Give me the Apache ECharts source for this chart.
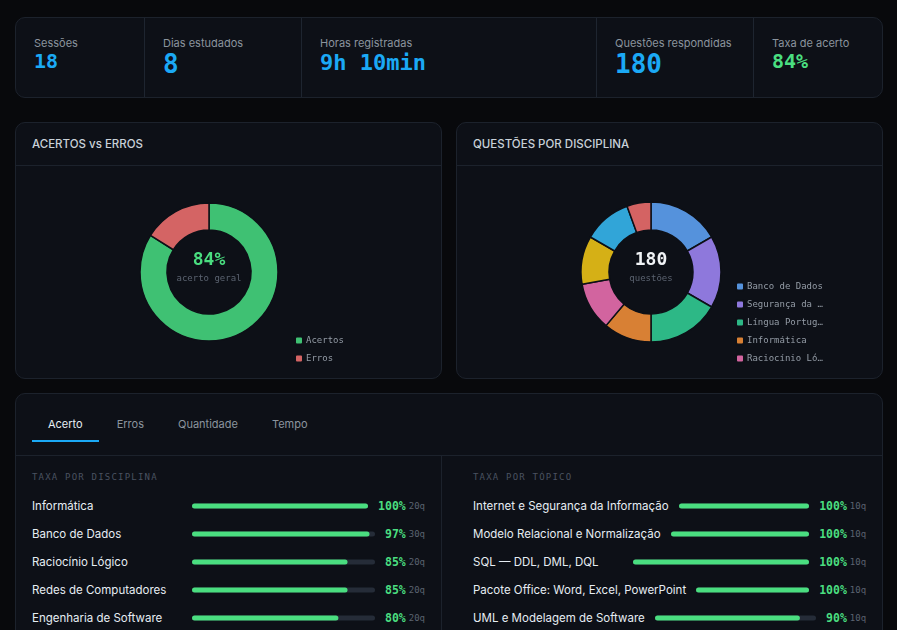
<!DOCTYPE html>
<html>
<head>
<meta charset="utf-8">
<script src="https://cdn.jsdelivr.net/npm/echarts@6.0.0/dist/echarts.min.js"></script>
<style>
  html, body { margin: 0; padding: 0; background: #08090c; overflow: hidden; }
  body { width: 897px; height: 630px; position: relative; font-family: Inter, "Noto Sans", sans-serif; color: #e6edf3; }
  .card { position: absolute; background: #0d1017; border: 1px solid #1c222c; border-radius: 10px; box-sizing: border-box; overflow: hidden; }
  .mono { font-family: "DejaVu Sans Mono", "Liberation Mono", monospace; }
  /* kpi */
  #kpi { left: 15px; top: 17px; width: 868px; height: 81px; display: flex; }
  .kpi-cell { box-sizing: border-box; padding: 18px 0 0 18px; border-right: 1px solid #1e2530; }
  .kpi-cell:last-child { border-right: none; }
  .kpi-label { font-size: 11px; color: #8b949e; line-height: 14px; }
  .kpi-val { font-weight: bold; color: #1ba9f5; line-height: 1.15; }
  /* donut cards */
  .head { height: 43px; border-bottom: 1px solid #1c222c; box-sizing: border-box; padding-left: 16px; line-height: 42px; font-size: 11.5px; font-weight: 500; color: #c9d1d9; }
  .donut { position: absolute; left: 0; top: 43px; width: 426px; height: 212px; }
  /* bottom */
  #bottom { left: 15px; top: 393px; width: 868px; height: 280px; }
  .tabs { display: flex; padding: 12px 16px 13px; border-bottom: 1px solid #1c222c; }
  .tab { padding: 11px 16px 9px; margin-right: 2px; font-size: 11px; line-height: 14px; color: #8b949e; border-bottom: 2px solid transparent; }
  .tab.on { color: #e6edf3; border-bottom-color: #1ba9f5; }
  .panels { display: flex; }
  .panel { box-sizing: border-box; padding: 16px 16px 0 16px; }
  .panel:first-child { width: 426px; border-right: 1px solid #1c222c; }
  .panel:last-child { flex: 1; padding-left: 31px; }
  .ptitle { font-size: 9px; line-height: 11px; letter-spacing: 1.2px; color: #4a5260; margin-bottom: 9px; }
  .row { display: flex; align-items: center; height: 28px; }
  .rlabel { min-width: 150px; margin-right: 10px; white-space: nowrap; font-size: 11.5px; color: #e6edf3; }
  .rbar { flex: 1; height: 10px; }
  .rpct { margin-left: 10px; font-size: 11.5px; font-weight: bold; color: #4ade80; }
  .rcnt { margin-left: 3px; font-size: 9px; color: #5b6370; }
</style>
</head>
<body>

<div class="card" id="kpi"></div>

<div class="card" style="left:15px; top:122px; width:427px; height:257px;">
  <div class="head">ACERTOS vs ERROS</div>
  <div class="donut" id="chartAcertos"></div>
</div>

<div class="card" style="left:456px; top:122px; width:427px; height:257px;">
  <div class="head">QUESTÕES POR DISCIPLINA</div>
  <div class="donut" id="chartDisc"></div>
</div>

<div class="card" id="bottom">
  <div class="tabs" id="tabs"></div>
  <div class="panels">
    <div class="panel"><div class="ptitle mono">TAXA POR DISCIPLINA</div><div id="rowsDisc"></div></div>
    <div class="panel"><div class="ptitle mono">TAXA POR TÓPICO</div><div id="rowsTopic"></div></div>
  </div>
</div>

<script>
// dados
var kpiLabels = ['Sessões', 'Dias estudados', 'Horas registradas', 'Questões respondidas', 'Taxa de acerto'];
var kpiValues = ['18', '8', '9h 10min', '180', '84%'];

var acertoNames = ['Acertos', 'Erros'];
var acertoValues = [151, 29];
var acertoPct = '84%';

var discNames = ['Banco de Dados', 'Segurança da Informação', 'Língua Portuguesa', 'Informática',
  'Raciocínio Lógico', 'Redes de Computadores', 'Engenharia de Software', 'Legislação'];
var discCounts = [30, 30, 30, 20, 20, 20, 20, 10];
var totalQuestoes = '180';

var tabNames = ['Acerto', 'Erros', 'Quantidade', 'Tempo'];

var rateDiscNames = ['Informática', 'Banco de Dados', 'Raciocínio Lógico', 'Redes de Computadores', 'Engenharia de Software'];
var rateDiscValues = [100, 97, 85, 85, 80];
var rateDiscCounts = [20, 30, 20, 20, 20];

var rateTopicNames = ['Internet e Segurança da Informação', 'Modelo Relacional e Normalização', 'SQL — DDL, DML, DQL',
  'Pacote Office: Word, Excel, PowerPoint', 'UML e Modelagem de Software'];
var rateTopicValues = [100, 100, 100, 100, 90];
var rateTopicCounts = [10, 10, 10, 10, 10];

// cores / estilo
var BG = '#0d1017';
var MONO = '"DejaVu Sans Mono", "Liberation Mono", monospace';
var discColors = ['#5592dc', '#8e78dc', '#2db886', '#d88034', '#d2649f', '#d5b016', '#31a5d8', '#d46363'];

// kpi
var kpiWidths = [129, 157, 295, 157, 130];
var kpiSizes = [20, 26, 22, 26, 20];
var kpiHtml = '';
kpiLabels.forEach(function(l, i) {
  var col = i == 4 ? '#4ade80' : '#1ba9f5';
  kpiHtml += '<div class="kpi-cell" style="width:' + kpiWidths[i] + 'px' + (i == 4 ? ';flex:1' : '') + '">' +
    '<div class="kpi-label">' + l + '</div>' +
    '<div class="kpi-val mono" style="font-size:' + kpiSizes[i] + 'px;color:' + col + '">' + kpiValues[i] + '</div></div>';
});
document.getElementById('kpi').innerHTML = kpiHtml;

// tabs
document.getElementById('tabs').innerHTML = tabNames.map(function(t, i) {
  return '<div class="tab' + (i == 0 ? ' on' : '') + '">' + t + '</div>';
}).join('');

function centerText(big, small, bigColor, cx) {
  return [
    { type: 'text', x: cx, y: 94, style: { text: big, fill: bigColor, font: 'bold 18px ' + MONO, align: 'center', verticalAlign: 'middle' } },
    { type: 'text', x: cx, y: 113, style: { text: small, fill: '#5b6370', font: '9px ' + MONO, align: 'center', verticalAlign: 'middle' } }
  ];
}

function legendOpt(names, left, top) {
  return {
    data: names, orient: 'vertical', left: left, top: top, padding: 0, height: 120,
    icon: 'roundRect', itemWidth: 8, itemHeight: 8, itemGap: 7, selectedMode: false,
    textStyle: { color: '#949ca6', fontFamily: MONO, fontSize: 9, lineHeight: 11, width: 78, overflow: 'truncate', ellipsis: '…', padding: [0, 0, 0, -2] }
  };
}

function pieSeries(names, values, colors, r1, r2, cx) {
  return {
    type: 'pie', center: [cx, 106], radius: [r1, r2], startAngle: 90, clockwise: true,
    label: { show: false }, labelLine: { show: false }, emphasis: { disabled: true },
    itemStyle: { borderColor: BG, borderWidth: 1.5 },
    data: names.map(function(n, i) { return { name: n, value: values[i], itemStyle: { color: colors[i] } }; })
  };
}

var c1 = echarts.init(document.getElementById('chartAcertos'));
c1.setOption({
  animation: false,
  legend: legendOpt(acertoNames, 278, 169),
  graphic: centerText(acertoPct, 'acerto geral', '#4ade80', 193),
  series: [pieSeries(acertoNames, acertoValues, ['#3fc173', '#d46464'], 42, 69, 193)]
});

var c2 = echarts.init(document.getElementById('chartDisc'));
c2.setOption({
  animation: false,
  legend: legendOpt(discNames.slice(0, 5), 278, 115),
  graphic: centerText(totalQuestoes, 'questões', '#f0f3f6', 194),
  series: [pieSeries(discNames, discCounts, discColors, 42, 70, 194)]
});

// linhas com barras de progresso
function drawRows(targetId, names, values, counts) {
  var box = document.getElementById(targetId);
  names.forEach(function(n, i) {
    var row = document.createElement('div');
    row.className = 'row';
    row.innerHTML = '<div class="rlabel">' + n + '</div><div class="rbar"></div>' +
      '<div class="rpct mono">' + values[i] + '%</div><div class="rcnt mono">' + counts[i] + 'q</div>';
    box.appendChild(row);
    var ch = echarts.init(row.querySelector('.rbar'));
    ch.setOption({
      animation: false,
      grid: { left: 0, right: 0, top: 0, bottom: 0 },
      xAxis: { type: 'value', min: 0, max: 100, show: false },
      yAxis: { type: 'category', data: [n], show: false },
      series: [{
        type: 'bar', data: [values[i]], barWidth: 5,
        showBackground: true, backgroundStyle: { color: '#252c38', borderRadius: 3 },
        itemStyle: { color: '#4ade80', borderRadius: 3 },
        emphasis: { disabled: true }
      }]
    });
  });
}
drawRows('rowsDisc', rateDiscNames, rateDiscValues, rateDiscCounts);
drawRows('rowsTopic', rateTopicNames, rateTopicValues, rateTopicCounts);
</script>
</body>
</html>
